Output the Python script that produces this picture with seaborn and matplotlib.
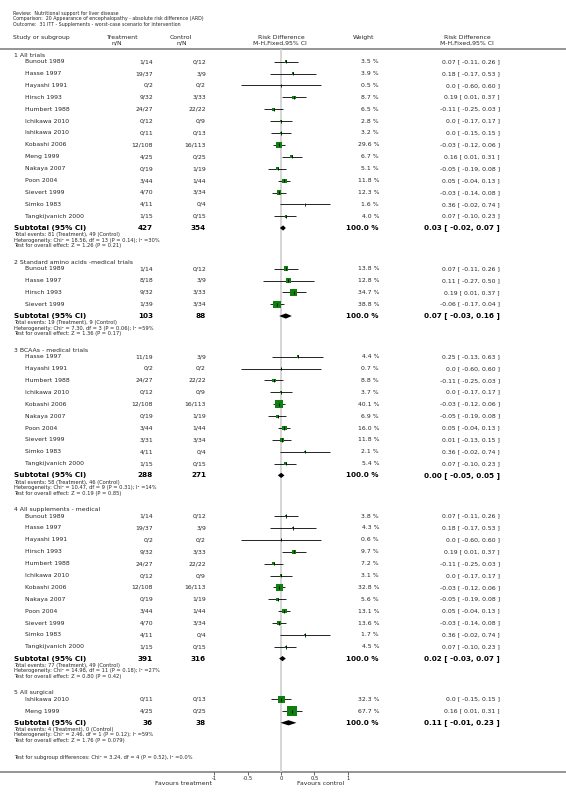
import numpy as np
import pandas as pd
import matplotlib
matplotlib.use('Agg')
import matplotlib.pyplot as plt
import seaborn as sns

# ---- dados ----
cabecalho = ['Review:  Nutritional support for liver disease',
             'Comparison:  20 Appearance of encephalopathy - absolute risk difference (ARD)',
             'Outcome:  31 ITT - Supplements - worst-case scenario for intervention']

# 1 All trials
g1_titulo = '1 All trials'
g1_estudos = ['Bunout 1989', 'Hasse 1997', 'Hayashi 1991', 'Hirsch 1993', 'Humbert 1988',
              'Ichikawa 2010', 'Ishikawa 2010', 'Kobashi 2006', 'Meng 1999', 'Nakaya 2007',
              'Poon 2004', 'Sievert 1999', 'Simko 1983', 'Tangkijvanich 2000']
g1_trat = ['1/14', '19/37', '0/2', '9/32', '24/27', '0/12', '0/11', '12/108', '4/25', '0/19',
           '3/44', '4/70', '4/11', '1/15']
g1_ctrl = ['0/12', '3/9', '0/2', '3/33', '22/22', '0/9', '0/13', '16/113', '0/25', '1/19',
           '1/44', '3/34', '0/4', '0/15']
g1_peso = [3.5, 3.9, 0.5, 8.7, 6.5, 2.8, 3.2, 29.6, 6.7, 5.1, 11.8, 12.3, 1.6, 4.0]
g1_rd = [0.07, 0.18, 0.0, 0.19, -0.11, 0.0, 0.0, -0.03, 0.16, -0.05, 0.05, -0.03, 0.36, 0.07]
g1_lo = [-0.11, -0.17, -0.60, 0.01, -0.25, -0.17, -0.15, -0.12, 0.01, -0.19, -0.04, -0.14, -0.02, -0.10]
g1_hi = [0.26, 0.53, 0.60, 0.37, 0.03, 0.17, 0.15, 0.06, 0.31, 0.08, 0.13, 0.08, 0.74, 0.23]
g1_total = ['427', '354']
g1_sub = [0.03, -0.02, 0.07]
g1_notas = ['Total events: 81 (Treatment), 49 (Control)',
            'Heterogeneity: Chi² = 18.56, df = 13 (P = 0.14); I² =30%',
            'Test for overall effect: Z = 1.26 (P = 0.21)']

# 2 Standard amino acids
g2_titulo = '2 Standard amino acids -medical trials'
g2_estudos = ['Bunout 1989', 'Hasse 1997', 'Hirsch 1993', 'Sievert 1999']
g2_trat = ['1/14', '8/18', '9/32', '1/39']
g2_ctrl = ['0/12', '3/9', '3/33', '3/34']
g2_peso = [13.8, 12.8, 34.7, 38.8]
g2_rd = [0.07, 0.11, 0.19, -0.06]
g2_lo = [-0.11, -0.27, 0.01, -0.17]
g2_hi = [0.26, 0.50, 0.37, 0.04]
g2_total = ['103', '88']
g2_sub = [0.07, -0.03, 0.16]
g2_notas = ['Total events: 19 (Treatment), 9 (Control)',
            'Heterogeneity: Chi² = 7.30, df = 3 (P = 0.06); I² =59%',
            'Test for overall effect: Z = 1.36 (P = 0.17)']

# 3 BCAAs
g3_titulo = '3 BCAAs - medical trials'
g3_estudos = ['Hasse 1997', 'Hayashi 1991', 'Humbert 1988', 'Ichikawa 2010', 'Kobashi 2006',
              'Nakaya 2007', 'Poon 2004', 'Sievert 1999', 'Simko 1983', 'Tangkijvanich 2000']
g3_trat = ['11/19', '0/2', '24/27', '0/12', '12/108', '0/19', '3/44', '3/31', '4/11', '1/15']
g3_ctrl = ['3/9', '0/2', '22/22', '0/9', '16/113', '1/19', '1/44', '3/34', '0/4', '0/15']
g3_peso = [4.4, 0.7, 8.8, 3.7, 40.1, 6.9, 16.0, 11.8, 2.1, 5.4]
g3_rd = [0.25, 0.0, -0.11, 0.0, -0.03, -0.05, 0.05, 0.01, 0.36, 0.07]
g3_lo = [-0.13, -0.60, -0.25, -0.17, -0.12, -0.19, -0.04, -0.13, -0.02, -0.10]
g3_hi = [0.63, 0.60, 0.03, 0.17, 0.06, 0.08, 0.13, 0.15, 0.74, 0.23]
g3_total = ['288', '271']
g3_sub = [0.00, -0.05, 0.05]
g3_notas = ['Total events: 58 (Treatment), 46 (Control)',
            'Heterogeneity: Chi² = 10.47, df = 9 (P = 0.31); I² =14%',
            'Test for overall effect: Z = 0.19 (P = 0.85)']

# 4 All supplements - medical
g4_titulo = '4 All supplements - medical'
g4_estudos = ['Bunout 1989', 'Hasse 1997', 'Hayashi 1991', 'Hirsch 1993', 'Humbert 1988',
              'Ichikawa 2010', 'Kobashi 2006', 'Nakaya 2007', 'Poon 2004', 'Sievert 1999',
              'Simko 1983', 'Tangkijvanich 2000']
g4_trat = ['1/14', '19/37', '0/2', '9/32', '24/27', '0/12', '12/108', '0/19', '3/44', '4/70',
           '4/11', '1/15']
g4_ctrl = ['0/12', '3/9', '0/2', '3/33', '22/22', '0/9', '16/113', '1/19', '1/44', '3/34',
           '0/4', '0/15']
g4_peso = [3.8, 4.3, 0.6, 9.7, 7.2, 3.1, 32.8, 5.6, 13.1, 13.6, 1.7, 4.5]
g4_rd = [0.07, 0.18, 0.0, 0.19, -0.11, 0.0, -0.03, -0.05, 0.05, -0.03, 0.36, 0.07]
g4_lo = [-0.11, -0.17, -0.60, 0.01, -0.25, -0.17, -0.12, -0.19, -0.04, -0.14, -0.02, -0.10]
g4_hi = [0.26, 0.53, 0.60, 0.37, 0.03, 0.17, 0.06, 0.08, 0.13, 0.08, 0.74, 0.23]
g4_total = ['391', '316']
g4_sub = [0.02, -0.03, 0.07]
g4_notas = ['Total events: 77 (Treatment), 49 (Control)',
            'Heterogeneity: Chi² = 14.98, df = 11 (P = 0.18); I² =27%',
            'Test for overall effect: Z = 0.80 (P = 0.42)']

# 5 All surgical
g5_titulo = '5 All surgical'
g5_estudos = ['Ishikawa 2010', 'Meng 1999']
g5_trat = ['0/11', '4/25']
g5_ctrl = ['0/13', '0/25']
g5_peso = [32.3, 67.7]
g5_rd = [0.0, 0.16]
g5_lo = [-0.15, 0.01]
g5_hi = [0.15, 0.31]
g5_total = ['36', '38']
g5_sub = [0.11, -0.01, 0.23]
g5_notas = ['Total events: 4 (Treatment), 0 (Control)',
            'Heterogeneity: Chi² = 2.46, df = 1 (P = 0.12); I² =59%',
            'Test for overall effect: Z = 1.76 (P = 0.079)']

nota_final = 'Test for subgroup differences: Chi² = 3.24, df = 4 (P = 0.52), I² =0.0%'
ticks_x = [-1, -0.5, 0, 0.5, 1]
ticks_rotulos = ['-1', '-0.5', '0', '0.5', '1']

grupos = []
for t, e, tr, c, p, r, lo, hi, tot, sub, nt in [
        (g1_titulo, g1_estudos, g1_trat, g1_ctrl, g1_peso, g1_rd, g1_lo, g1_hi, g1_total, g1_sub, g1_notas),
        (g2_titulo, g2_estudos, g2_trat, g2_ctrl, g2_peso, g2_rd, g2_lo, g2_hi, g2_total, g2_sub, g2_notas),
        (g3_titulo, g3_estudos, g3_trat, g3_ctrl, g3_peso, g3_rd, g3_lo, g3_hi, g3_total, g3_sub, g3_notas),
        (g4_titulo, g4_estudos, g4_trat, g4_ctrl, g4_peso, g4_rd, g4_lo, g4_hi, g4_total, g4_sub, g4_notas),
        (g5_titulo, g5_estudos, g5_trat, g5_ctrl, g5_peso, g5_rd, g5_lo, g5_hi, g5_total, g5_sub, g5_notas)]:
    grupos.append(dict(titulo=t, estudos=e, trat=tr, ctrl=c, peso=p, rd=r, lo=lo, hi=hi,
                       total=tot, sub=sub, notas=nt))


def fmt(v):
    return '0.0' if v == 0 else f'{v:.2f}'


# ---- figura ----
sns.set_theme(style='white')
plt.rcParams['font.family'] = ['DejaVu Sans']

W, H = 566, 796
fig = plt.figure(figsize=(W / 100, H / 100), dpi=100)
ax = fig.add_axes([0, 0, 1, 1])
ax.set_xlim(0, W)
ax.set_ylim(H, 0)
ax.axis('off')

X0, X1 = 214.5, 347.8   # posição de -1 e 1
Y_TOP, Y_AX = 49, 772
axf = fig.add_axes([X0 / W, (H - Y_AX) / H, (X1 - X0) / W, (Y_AX - Y_TOP) / H])
axf.patch.set_visible(False)

COR = '#262626'
VERDE = '#0f800f'
FS = 4.4


def texto(x, y, s, fs=FS, ha='left', bold=False, cor=COR):
    ax.text(x, y, s, fontsize=fs, ha=ha, va='center', color='black' if bold else cor,
            fontweight='bold' if bold else 'normal')


# cabeçalho
for i, linha in enumerate(cabecalho):
    texto(13, 13.3 + 5.5 * i, linha, fs=3.4)
texto(13, 37.5, 'Study or subgroup')
texto(123, 37.5, 'Treatment', ha='center')
texto(117, 43.3, 'n/N', ha='center')
texto(181, 37.5, 'Control', ha='center')
texto(182, 43.3, 'n/N', ha='center')
texto(281, 37.5, 'Risk Difference', ha='center')
texto(280, 43.3, 'M-H,Fixed,95% CI', ha='center')
texto(364, 37.5, 'Weight', ha='center')
texto(467, 37.5, 'Risk Difference', ha='center')
texto(467, 43.3, 'M-H,Fixed,95% CI', ha='center')
ax.axhline(48.8, color='#8c8c8c', lw=1.3)
ax.axhline(Y_AX, color='#8c8c8c', lw=1.3)

axf.axvline(0, color='#d0d0d0', lw=1.2, zorder=0)

linhas = []
y = 55.3
for g in grupos:
    texto(14, y, g['titulo'])
    ys = y + 6.3 + 11.9 * np.arange(len(g['estudos']))
    for yi, nome, tr, c, p, r, lo, hi in zip(ys, g['estudos'], g['trat'], g['ctrl'], g['peso'],
                                            g['rd'], g['lo'], g['hi']):
        texto(25, yi, nome)
        texto(153, yi, tr, ha='right')
        texto(206, yi, c, ha='right')
        texto(379, yi, f'{p:.1f} %', ha='right')
        texto(500, yi, f'{fmt(r)} [ {fmt(lo)}, {fmt(hi)} ]', ha='right')
        linhas.append(dict(y=yi, rd=r, lo=lo, hi=hi, peso=p))
    ys_sub = ys[-1] + 11.7
    texto(14, ys_sub, 'Subtotal (95% CI)', fs=5.2, bold=True)
    texto(153, ys_sub, g['total'][0], fs=5.2, ha='right', bold=True)
    texto(206, ys_sub, g['total'][1], fs=5.2, ha='right', bold=True)
    texto(379, ys_sub, '100.0 %', fs=5.2, ha='right', bold=True)
    est, lo, hi = g['sub']
    texto(500, ys_sub, f'{est:.2f} [ {lo:.2f}, {hi:.2f} ]', fs=5.2, ha='right', bold=True)
    axf.fill([lo, est, hi, est], [ys_sub, ys_sub - 2.6, ys_sub, ys_sub + 2.6],
             color='black', lw=0, zorder=3)
    yn = ys_sub + 6.6
    for k, nota in enumerate(g['notas']):
        texto(14, yn + 5.5 * k, nota, fs=3.7)
    y = yn + 11 + 16.7

texto(14, y, nota_final, fs=3.7)

df = pd.DataFrame(linhas)
axf.hlines(df['y'], df['lo'], df['hi'], color='black', lw=0.6, zorder=2)
sns.scatterplot(data=df, x='rd', y='y', size='peso', sizes=(0, 75), size_norm=(0, 100),
                marker='s', color=VERDE, linewidth=0, legend=False, ax=axf, zorder=3)
axf.vlines(df['rd'], df['y'] - 1.6, df['y'] + 1.6, color='black', lw=0.6, zorder=4)

axf.set_xlim(-1, 1)
axf.set_ylim(Y_AX, Y_TOP)
axf.set_xlabel('')
axf.set_ylabel('')
axf.set_yticks([])
axf.set_xticks(ticks_x)
axf.set_xticklabels(ticks_rotulos)
axf.tick_params(axis='x', bottom=True, length=2, width=0.5, pad=1, labelsize=3.8,
                colors=COR)
for s in axf.spines.values():
    s.set_visible(False)

texto(183.5, 783.7, 'Favours treatment')
ax.texts[-1].set_ha('center')
texto(321, 783.7, 'Favours control', ha='center')

fig.savefig('out.png', dpi=100)
